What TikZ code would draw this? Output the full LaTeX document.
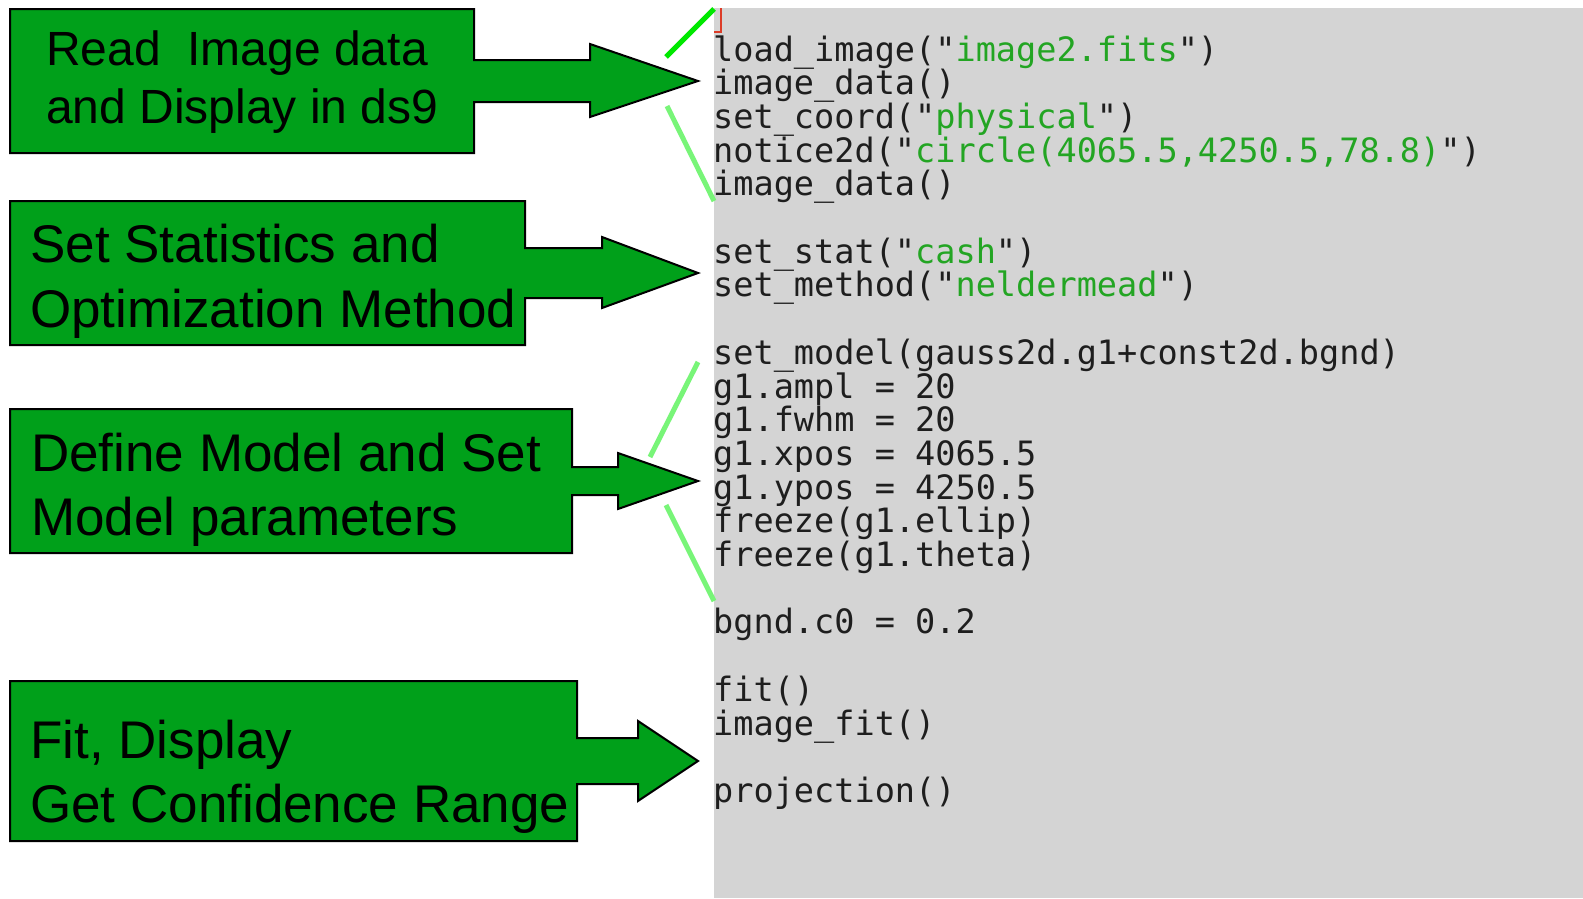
\documentclass[tikz,border=0pt]{standalone}
\usepackage{fontspec}
\setmainfont{Liberation Sans}
\newfontfamily\codefont{DejaVu Sans Mono}
\definecolor{boxgreen}{RGB}{0,160,26}
\definecolor{panelgray}{RGB}{212,212,212}
\definecolor{codegray}{RGB}{30,30,30}
\definecolor{strgreen}{RGB}{35,165,35}
\definecolor{brightgreen}{RGB}{0,232,0}
\definecolor{lightgreen}{RGB}{120,245,120}
\definecolor{cursorred}{RGB}{220,60,40}
\newcommand\codestr[1]{\textcolor{strgreen}{#1}}
\begin{document}
\begin{tikzpicture}[x=1pt,y=-1pt,
  arrowbox/.style={fill=boxgreen,draw=black,line width=2pt,line join=miter},
  lblbig/.style={anchor=base west,inner sep=0pt,font=\fontsize{53}{60}\selectfont},
  lblsmall/.style={anchor=base west,inner sep=0pt,font=\fontsize{48}{56}\selectfont},
  code/.style={anchor=base west,inner sep=0pt,text height=24pt,text depth=6pt,font=\codefont\fontsize{33.55}{34}\selectfont,text=codegray},
  callout/.style={line width=5pt},
]
\useasboundingbox (0,0) rectangle (1583,898);
\fill[white] (0,0) rectangle (1583,898);
% code panel
\fill[panelgray] (714,8) rectangle (1583,898);
\coordinate (cur1) at (714,32);
\coordinate (cur2) at (721,32);
\coordinate (cur3) at (721,8);
\draw[cursorred,line width=2pt] (cur1) -- (cur2) -- (cur3);

% arrow boxes
\draw[arrowbox] (10,9) -- (474,9) -- (474,60) -- (590,60) -- (590,44) -- (698,81) -- (590,117) -- (590,102) -- (474,102) -- (474,153) -- (10,153) -- cycle;
\draw[arrowbox] (10,201) -- (525,201) -- (525,248) -- (602,248) -- (602,237) -- (698,273) -- (602,308) -- (602,298) -- (525,298) -- (525,345) -- (10,345) -- cycle;
\draw[arrowbox] (10,409) -- (572,409) -- (572,467) -- (618,467) -- (618,453) -- (698,481) -- (618,509) -- (618,495) -- (572,495) -- (572,553) -- (10,553) -- cycle;
\draw[arrowbox] (10,681) -- (577,681) -- (577,738) -- (638,738) -- (638,721) -- (698,761) -- (638,801) -- (638,784) -- (577,784) -- (577,841) -- (10,841) -- cycle;

% box labels
\node[lblsmall] (t1a) at (46,65) {Read\ \ Image data};
\node[lblsmall] (t1b) at (46,123) {and Display in ds9};
\node[lblbig] (t2a) at (30,262) {Set Statistics and};
\node[lblbig] (t2b) at (30,327) {Optimization Method};
\node[lblbig] (t3a) at (31,471) {Define Model and Set};
\node[lblbig] (t3b) at (31,535) {Model parameters};
\node[lblbig] (t4a) at (30,758) {Fit, Display};
\node[lblbig] (t4b) at (30,822) {Get Confidence Range};

% callout lines
\coordinate (g1a) at (666,57);  \coordinate (g1b) at (714,9);
\coordinate (g2a) at (667,106); \coordinate (g2b) at (714,201);
\coordinate (g3a) at (698,362); \coordinate (g3b) at (650,457);
\coordinate (g4a) at (666,505); \coordinate (g4b) at (714,601);
\draw[callout,brightgreen] (g1a) -- (g1b);
\draw[callout,lightgreen] (g2a) -- (g2b);
\draw[callout,lightgreen] (g3a) -- (g3b);
\draw[callout,lightgreen] (g4a) -- (g4b);

% code
\node[code] (c0) at (713,61) {load\_image("\codestr{image2.fits}")};
\node[code] (c1) at (713,94.7) {image\_data()};
\node[code] (c2) at (713,128.4) {set\_coord("\codestr{physical}")};
\node[code] (c3) at (713,162.1) {notice2d("\codestr{circle(4065.5,4250.5,78.8)}")};
\node[code] (c4) at (713,195.8) {image\_data()};
\node[code] (c6) at (713,263.2) {set\_stat("\codestr{cash}")};
\node[code] (c7) at (713,296.9) {set\_method("\codestr{neldermead}")};
\node[code] (c9) at (713,364.3) {set\_model(gauss2d.g1+const2d.bgnd)};
\node[code] (c10) at (713,398) {g1.ampl = 20};
\node[code] (c11) at (713,431.7) {g1.fwhm = 20};
\node[code] (c12) at (713,465.4) {g1.xpos = 4065.5};
\node[code] (c13) at (713,499.1) {g1.ypos = 4250.5};
\node[code] (c14) at (713,532.8) {freeze(g1.ellip)};
\node[code] (c15) at (713,566.5) {freeze(g1.theta)};
\node[code] (c17) at (713,633.9) {bgnd.c0 = 0.2};
\node[code] (c19) at (713,701.3) {fit()};
\node[code] (c20) at (713,735) {image\_fit()};
\node[code] (c22) at (713,802.4) {projection()};
\end{tikzpicture}
\end{document}
